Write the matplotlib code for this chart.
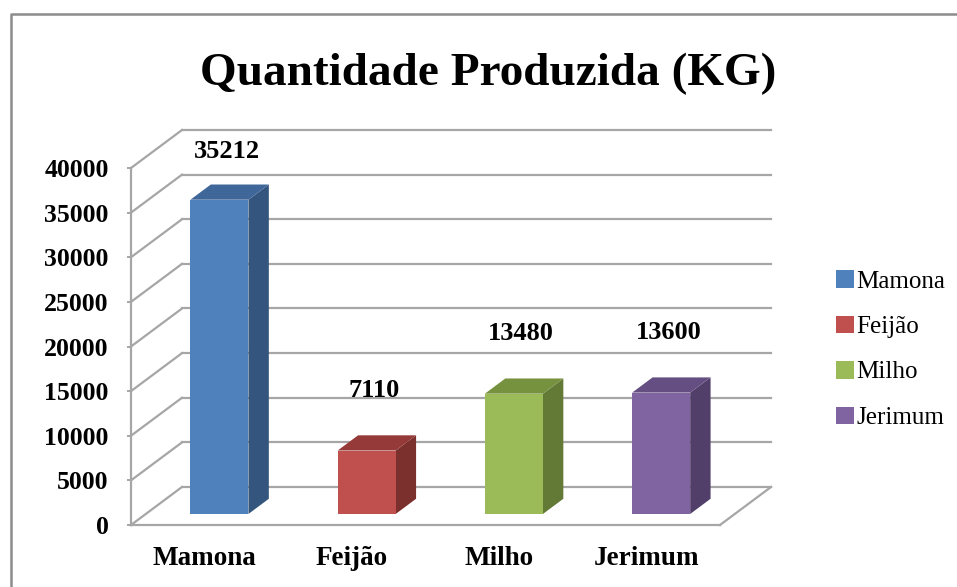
import matplotlib.pyplot as plt
import numpy as np
from matplotlib.patches import Polygon, Patch
from matplotlib.lines import Line2D

# Dados do grafico
culturas = ['Mamona', 'Feijão', 'Milho', 'Jerimum']
quantidade = [35212, 7110, 13480, 13600]
yticks = np.arange(0, 40001, 5000)

cor_frente = ['#4F81BD', '#C0504D', '#9BBB59', '#8064A2']
cor_lado = ['#34557D', '#7B302E', '#637A37', '#513F6A']
cor_topo = ['#3F679A', '#953A38', '#77923F', '#654F82']

FONTE = 'Liberation Serif'
GRADE = '#A6A6A6'

# profundidade do efeito 3D (em unidades dos dados)
DX = 0.3464
DY = 4258
d0, d1 = 0.29, 0.69   # frente e fundo da barra
larg = 0.394


def proj(x, v, d):
    return (x + d * DX, v + d * DY)


fig = plt.figure(figsize=(9.57, 5.87), dpi=100)
ax = fig.add_axes([131 / 957, 62 / 587, 589 / 957, 357 / 587])
ax.set_xlim(-0.5, 3.5)
ax.set_ylim(0, 40000)

# parede do fundo e parede lateral
for v in yticks:
    a = proj(-0.5, v, 1)
    b = proj(3.5, v, 1)
    ax.plot([a[0], b[0]], [a[1], b[1]], color=GRADE, lw=1.6, clip_on=False, zorder=1)
    c = proj(-0.5, v, 0)
    ax.plot([c[0], a[0]], [c[1], a[1]], color=GRADE, lw=1.6, clip_on=False, zorder=1)

# borda direita do piso
p = proj(3.5, 0, 0)
q = proj(3.5, 0, 1)
ax.plot([p[0], q[0]], [p[1], q[1]], color=GRADE, lw=1.6, clip_on=False, zorder=1)

# barras 3D
for i, val in enumerate(quantidade):
    xl = i - larg / 2
    xr = i + larg / 2
    frente = [proj(xl, 0, d0), proj(xr, 0, d0), proj(xr, val, d0), proj(xl, val, d0)]
    lado = [proj(xr, 0, d0), proj(xr, 0, d1), proj(xr, val, d1), proj(xr, val, d0)]
    topo = [proj(xl, val, d0), proj(xr, val, d0), proj(xr, val, d1), proj(xl, val, d1)]
    ax.add_patch(Polygon(lado, closed=True, facecolor=cor_lado[i], edgecolor='none', clip_on=False, zorder=3))
    ax.add_patch(Polygon(topo, closed=True, facecolor=cor_topo[i], edgecolor='none', clip_on=False, zorder=3))
    ax.add_patch(Polygon(frente, closed=True, facecolor=cor_frente[i], edgecolor='none', clip_on=False, zorder=4))
    # rotulo do valor
    ax.text(i + 0.15, min(val + 8000, 41800), str(val), ha='center', va='center',
            fontsize=19, fontweight='bold', family=FONTE, clip_on=False)

# eixos
for s in ['top', 'right']:
    ax.spines[s].set_visible(False)
ax.spines['left'].set_color(GRADE)
ax.spines['bottom'].set_color(GRADE)
ax.spines['left'].set_linewidth(1.6)
ax.spines['bottom'].set_linewidth(1.6)
ax.patch.set_alpha(0)

ax.set_yticks(yticks)
ax.set_yticklabels([str(v) for v in yticks], fontsize=18.5, fontweight='bold', family=FONTE)
ax.tick_params(axis='y', length=3, color=GRADE, width=1.4, pad=13)
ax.set_xticks(range(len(culturas)))
ax.set_xticklabels(culturas, fontsize=19.5, fontweight='bold', family=FONTE)
ax.tick_params(axis='x', length=0, pad=15)

# titulo
fig.text(488 / 957, 1 - 85 / 587, 'Quantidade Produzida (KG)', ha='center', va='baseline',
         fontsize=34, fontweight='bold', family=FONTE)

# legenda
handles = [Patch(facecolor=c, edgecolor='none') for c in cor_frente]
fig.legend(handles, culturas, loc='upper left', bbox_to_anchor=(826 / 957, 1 - 260 / 587),
           frameon=False, prop={'family': FONTE, 'size': 18}, handlelength=0.7,
           handleheight=0.7, handletextpad=0.12, labelspacing=0.92, borderaxespad=0)

# moldura do grafico
fig.add_artist(Line2D([11 / 957, 11 / 957, 1.0], [0, 1 - 14 / 587, 1 - 14 / 587],
                      transform=fig.transFigure, color='#8C8C8C', lw=1.8))

plt.savefig('out.png', dpi=100)
